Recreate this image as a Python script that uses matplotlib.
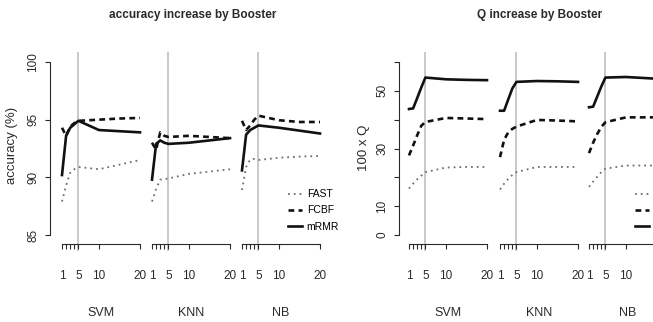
import matplotlib.pyplot as plt
from matplotlib.lines import Line2D

# x positions (number of boosters) and groups
x = [1, 2, 3, 4, 5, 10, 15, 20]
groups = ["SVM", "KNN", "NB"]
methods = ["FAST", "FCBF", "mRMR"]
xticks = [1, 2, 3, 4, 5, 10, 20]
xticklabels = ["1", "", "", "", "5", "10", "20"]

# accuracy (%) per group: SVM, KNN, NB
acc_fast = [[87.9, 89.3, 90.4, 90.7, 90.9, 90.7, 91.1, 91.5],
            [87.9, 89.0, 89.8, 89.85, 89.9, 90.3, 90.5, 90.7],
            [88.9, 90.9, 91.55, 91.6, 91.5, 91.7, 91.8, 91.85]]
acc_fcbf = [[94.3, 93.6, 94.4, 94.7, 94.9, 95.0, 95.1, 95.15],
            [93.0, 92.4, 93.9, 93.6, 93.5, 93.6, 93.5, 93.4],
            [94.9, 94.1, 94.5, 95.0, 95.35, 94.95, 94.8, 94.8]]
acc_mrmr = [[90.2, 93.6, 94.3, 94.6, 94.9, 94.1, 94.0, 93.9],
            [89.8, 92.9, 93.2, 93.0, 92.9, 93.0, 93.2, 93.4],
            [90.6, 93.7, 94.1, 94.3, 94.5, 94.3, 94.05, 93.8]]

# 100 x Q per group: SVM, KNN, NB
q_fast = [[16.1, 17.8, 19.3, 20.6, 21.8, 23.4, 23.6, 23.6],
          [15.8, 17.8, 19.5, 20.8, 21.8, 23.6, 23.6, 23.6],
          [16.7, 18.5, 20.2, 21.8, 23.0, 24.1, 24.1, 24.1]]
q_fcbf = [[27.6, 31.0, 34.6, 37.9, 39.2, 40.6, 40.4, 40.2],
          [27.0, 33.0, 35.6, 36.8, 37.6, 39.9, 39.7, 39.4],
          [28.4, 32.0, 35.0, 37.5, 39.1, 40.8, 40.8, 40.8]]
q_mrmr = [[43.7, 43.9, 47.5, 51.2, 54.6, 54.0, 53.8, 53.7],
          [43.1, 43.1, 47.0, 50.8, 53.1, 53.4, 53.3, 53.1],
          [44.3, 44.5, 48.0, 51.5, 54.6, 54.8, 54.4, 54.0]]

SANS = ["Liberation Sans", "DejaVu Sans"]
W, H = 653, 322
TOP, BOT = 62, 235
INK = "#2a2a2a"

styles = {
    "FAST": dict(color="#6f6f6f", lw=1.3, ls=(0, (1, 2.2))),
    "FCBF": dict(color="#111111", lw=1.9, ls=(0, (2.2, 1.6))),
    "mRMR": dict(color="#111111", lw=1.9, ls="-"),
}


def box(left, width=78):
    return [left / W, (H - BOT) / H, width / W, (BOT - TOP) / H]


def draw_panel(fig, lefts, series, ylim, yticks, ylabels, spine_off):
    axes = []
    for g, left in enumerate(lefts):
        ax = fig.add_axes(box(left))
        ax.set_xlim(1, 20)
        ax.set_ylim(*ylim)
        ax.patch.set_alpha(0)
        for s in ["top", "right"]:
            ax.spines[s].set_visible(False)
        ax.spines["bottom"].set_position(("axes", -9 / 173))
        ax.spines["bottom"].set_bounds(1, 20)
        ax.spines["bottom"].set_color(INK)
        ax.spines["bottom"].set_linewidth(0.8)
        ax.set_xticks(xticks)
        ax.set_xticklabels(xticklabels, family=SANS, fontsize=8.5, color=INK)
        ax.tick_params(axis="x", length=3.8, width=0.8, color=INK, pad=15)
        ax.axvline(5, ymin=-0.087, ymax=1.052, color="#c4c4c4", lw=1.3,
                   clip_on=False, zorder=0)
        for name, vals in zip(methods, series):
            ax.plot(x, vals[g], label=name, clip_on=False, **styles[name])
        ax.text(0.5, -0.45, groups[g], transform=ax.transAxes, ha="center",
                va="center", family=SANS, fontsize=9, color=INK)
        if g == 0:
            ax.spines["left"].set_position(("axes", spine_off))
            ax.spines["left"].set_bounds(*ylim)
            ax.spines["left"].set_color(INK)
            ax.spines["left"].set_linewidth(0.8)
            ax.set_yticks(yticks)
            ax.set_yticklabels(ylabels, rotation=90, va="center",
                               fontsize=8.5, color=INK, family=SANS)
            ax.tick_params(axis="y", length=3.8, width=0.8, color=INK, pad=4)
        else:
            ax.spines["left"].set_visible(False)
            ax.set_yticks([])
        axes.append(ax)
    handles = [Line2D([], [], **styles[m]) for m in methods]
    axes[-1].legend(handles, methods, loc="upper left",
                    bbox_to_anchor=(0.59, 0.265), frameon=False,
                    handlelength=1.3, handletextpad=0.5, labelspacing=0.6,
                    borderpad=0, borderaxespad=0,
                    prop=dict(family=SANS, size=7.5))
    return axes


fig = plt.figure(figsize=(W / 100, H / 100), dpi=100)

draw_panel(fig, [62, 152, 242], [acc_fast, acc_fcbf, acc_mrmr], (85, 100),
           [85, 90, 95, 100], ["85", "90", "95", "100"], -12 / 78)
draw_panel(fig, [409, 500, 589], [q_fast, q_fcbf, q_mrmr], (0, 60),
           [0, 10, 20, 30, 40, 50, 60], ["0", "10", "", "30", "", "50", ""],
           -10 / 78)

fig.text(193 / W, 1 - 15 / H, "accuracy increase by Booster", ha="center",
         va="center", family=SANS, fontweight="bold", fontsize=8.5, color=INK)
fig.text(540 / W, 1 - 15 / H, "Q increase by Booster", ha="center",
         va="center", family=SANS, fontweight="bold", fontsize=8.5, color=INK)
fig.text(12 / W, 1 - 145 / H, "accuracy (%)", rotation=90, ha="center",
         va="center", fontsize=9.5, color=INK, family=SANS)
fig.text(364 / W, 1 - 148 / H, "100 x Q", rotation=90, ha="center",
         va="center", fontsize=9.5, color=INK, family=SANS)

fig.savefig("out.png", dpi=100)
